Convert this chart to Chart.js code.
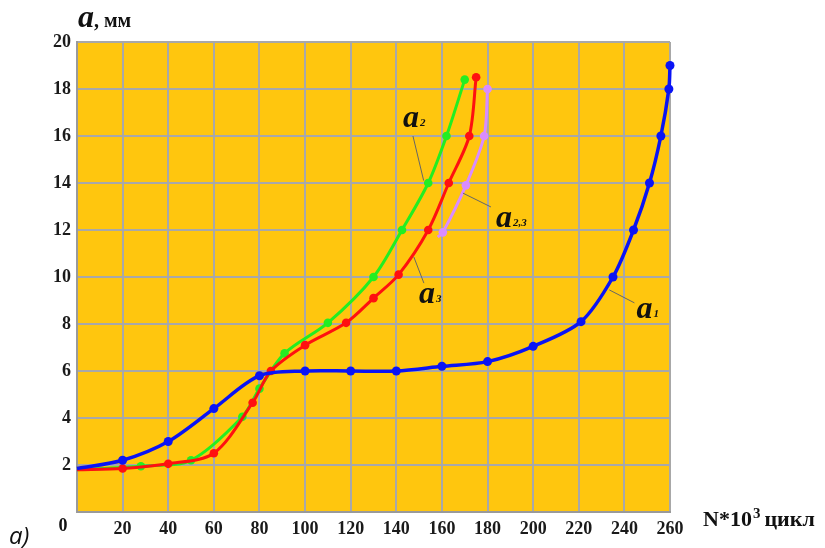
<!DOCTYPE html>
<html>
<head>
<meta charset="utf-8">
<script src="https://cdn.jsdelivr.net/npm/chart.js@4/dist/chart.umd.min.js"></script>
<style>
  html, body { margin: 0; padding: 0; background: #ffffff; }
  #wrap { width: 825px; height: 548px; }
</style>
</head>
<body>
<div id="wrap"><canvas id="c" width="825" height="548"></canvas></div>
<script>
// Crack length a (mm) versus number of load cycles N (thousands)
const xMin = 0, xMax = 260, xStep = 20;
const yMin = 0, yMax = 20, yStep = 2;

// a1
const a1N = [0, 20, 40, 60, 80, 100, 120, 140, 160, 180, 200, 221, 235, 244, 251, 256, 259.5, 260];
const a1A = [1.85, 2.2, 3.0, 4.4, 5.8, 6.0, 6.0, 6.0, 6.2, 6.4, 7.05, 8.1, 10.0, 12.0, 14.0, 16.0, 18.0, 19.0];
// a2
const a2N = [0, 28, 50, 72.5, 80, 91, 110, 130, 142.5, 154, 162, 170];
const a2A = [1.8, 1.95, 2.2, 4.05, 5.25, 6.75, 8.05, 10.0, 12.0, 14.0, 16.0, 18.4];
// a3
const a3N = [0, 20, 40, 60, 77, 85, 100, 118, 130, 141, 154, 163, 172, 175];
const a3A = [1.8, 1.85, 2.05, 2.5, 4.65, 6.0, 7.1, 8.05, 9.1, 10.1, 12.0, 14.0, 16.0, 18.5];
// a2,3
const a23N = [158.2, 160.4, 170.5, 178.5, 180];
const a23A = [11.7, 11.9, 13.9, 16.0, 18.0];

const toPoints = (xs, ys) => xs.map((x, i) => ({ x: x, y: ys[i] }));
const radii = (n, r, hideFirst) => Array.from({ length: n }, (_, i) => (hideFirst && i === 0 ? 0 : r));

// Curve labels: text position and leader line, in data units
const curveLabels = [
  { main: 'a', sub: '2',   at: [142.9, 16.4], from: [147.3, 16.0], to: [152.0, 14.1] },
  { main: 'a', sub: '2,3', at: [183.7, 12.13], from: [181.5, 12.98], to: [169.2, 13.57] },
  { main: 'a', sub: '3',   at: [149.9, 8.9],  from: [152.1, 9.74], to: [147.7, 10.85] },
  { main: 'a', sub: '1',   at: [245.3, 8.26], from: [244.4, 8.9],  to: [233.4, 9.45] }
];

const SERIF = '"Liberation Serif", "Times New Roman", serif';

const decorations = {
  id: 'decorations',
  beforeDraw(chart) {
    const { ctx, chartArea: a } = chart;
    ctx.save();
    ctx.fillStyle = '#FFC60E';
    ctx.fillRect(a.left, a.top, a.right - a.left, a.bottom - a.top);
    ctx.restore();
  },
  afterDatasetsDraw(chart) {
    const { ctx, scales: { x, y }, chartArea: a } = chart;
    ctx.save();
    // leader lines and curve labels
    curveLabels.forEach(l => {
      ctx.strokeStyle = '#666666';
      ctx.lineWidth = 1;
      ctx.beginPath();
      ctx.moveTo(x.getPixelForValue(l.from[0]), y.getPixelForValue(l.from[1]));
      ctx.lineTo(x.getPixelForValue(l.to[0]), y.getPixelForValue(l.to[1]));
      ctx.stroke();
      const px = x.getPixelForValue(l.at[0]);
      const py = y.getPixelForValue(l.at[1]);
      ctx.fillStyle = '#111111';
      ctx.textBaseline = 'alphabetic';
      ctx.textAlign = 'left';
      ctx.font = 'italic bold 32px ' + SERIF;
      ctx.fillText(l.main, px, py);
      const w = ctx.measureText(l.main).width;
      ctx.font = 'italic bold 11px ' + SERIF;
      ctx.fillText(l.sub, px + w + 1, py - 1);
    });

    // axis titles
    ctx.fillStyle = '#111111';
    ctx.textAlign = 'left';
    ctx.textBaseline = 'alphabetic';
    ctx.font = 'italic bold 32px ' + SERIF;
    ctx.fillText('a', a.left + 1, a.top - 15);
    const wa = ctx.measureText('a').width;
    ctx.font = 'bold 20px ' + SERIF;
    ctx.fillText(', мм', a.left + 1 + wa, a.top - 15);

    // x-axis title with a raised exponent
    let tx = a.right + 33;
    const ty = a.bottom + 14;
    ctx.font = 'bold 22px ' + SERIF;
    ctx.fillText('N*10', tx, ty);
    tx += ctx.measureText('N*10').width + 1;
    ctx.font = 'bold 15px ' + SERIF;
    ctx.fillText('3', tx, ty - 8);
    tx += ctx.measureText('3').width + 4;
    ctx.font = 'bold 22px ' + SERIF;
    ctx.fillText('цикл', tx, ty);

    // shared origin label
    ctx.font = 'bold 18px ' + SERIF;
    ctx.textAlign = 'center';
    ctx.textBaseline = 'middle';
    ctx.fillText('0', a.left - 14, a.bottom + 14);

    // panel letter
    ctx.font = 'italic 24px "Open Sans", "DejaVu Sans", sans-serif';
    ctx.textAlign = 'left';
    ctx.fillText('а)', 9, a.bottom + 25);
    ctx.restore();
  }
};

const lineStyle = (color, width) => ({
  borderColor: color,
  backgroundColor: color,
  pointBackgroundColor: color,
  pointBorderColor: color,
  borderWidth: width,
  pointBorderWidth: 0,
  tension: 0.3,
  fill: false,
  showLine: true,
  clip: 8
});

new Chart(document.getElementById('c'), {
  type: 'scatter',
  data: {
    datasets: [
      Object.assign(lineStyle('#0A14F5', 3.5), { label: 'a1', data: toPoints(a1N, a1A), pointRadius: radii(a1N.length, 4.5, true) }),
      Object.assign(lineStyle('#FF1010', 3), { label: 'a3', data: toPoints(a3N, a3A), pointRadius: radii(a3N.length, 4.3, true) }),
      Object.assign(lineStyle('#22EE22', 3), { label: 'a2', data: toPoints(a2N, a2A), pointRadius: radii(a2N.length, 4.3, true) }),
      Object.assign(lineStyle('#D98CFF', 3), { label: 'a2,3', data: toPoints(a23N, a23A), pointRadius: radii(a23N.length, 4.3, true) })
    ]
  },
  options: {
    responsive: false,
    animation: false,
    events: [],
    layout: { padding: { left: 0, right: 155, top: 42, bottom: 0 } },
    plugins: { legend: { display: false }, tooltip: { enabled: false } },
    scales: {
      x: {
        type: 'linear',
        min: xMin, max: xMax,
        afterFit: s => { s.height = 36; },
        afterBuildTicks: s => { s.ticks = []; for (let v = xMin; v <= xMax; v += xStep) s.ticks.push({ value: v }); },
        grid: { color: '#A8A8A8', lineWidth: 2, drawTicks: false },
        border: { color: '#9A9A9A', width: 2 },
        ticks: {
          padding: 7,
          maxRotation: 0,
          autoSkip: false,
          color: '#1a1a1a',
          font: { family: SERIF, size: 18, weight: 'bold' },
          callback: v => (v === 0 ? '' : String(v))
        }
      },
      y: {
        type: 'linear',
        min: yMin, max: yMax,
        afterFit: s => { s.width = 77; },
        afterBuildTicks: s => { s.ticks = []; for (let v = yMin; v <= yMax; v += yStep) s.ticks.push({ value: v }); },
        grid: { color: '#A8A8A8', lineWidth: 2, drawTicks: false },
        border: { color: '#9A9A9A', width: 2 },
        ticks: {
          padding: 6,
          autoSkip: false,
          color: '#1a1a1a',
          font: { family: SERIF, size: 18, weight: 'bold' },
          callback: v => (v === 0 ? '' : String(v))
        }
      }
    }
  },
  plugins: [decorations]
});
</script>
</body>
</html>
